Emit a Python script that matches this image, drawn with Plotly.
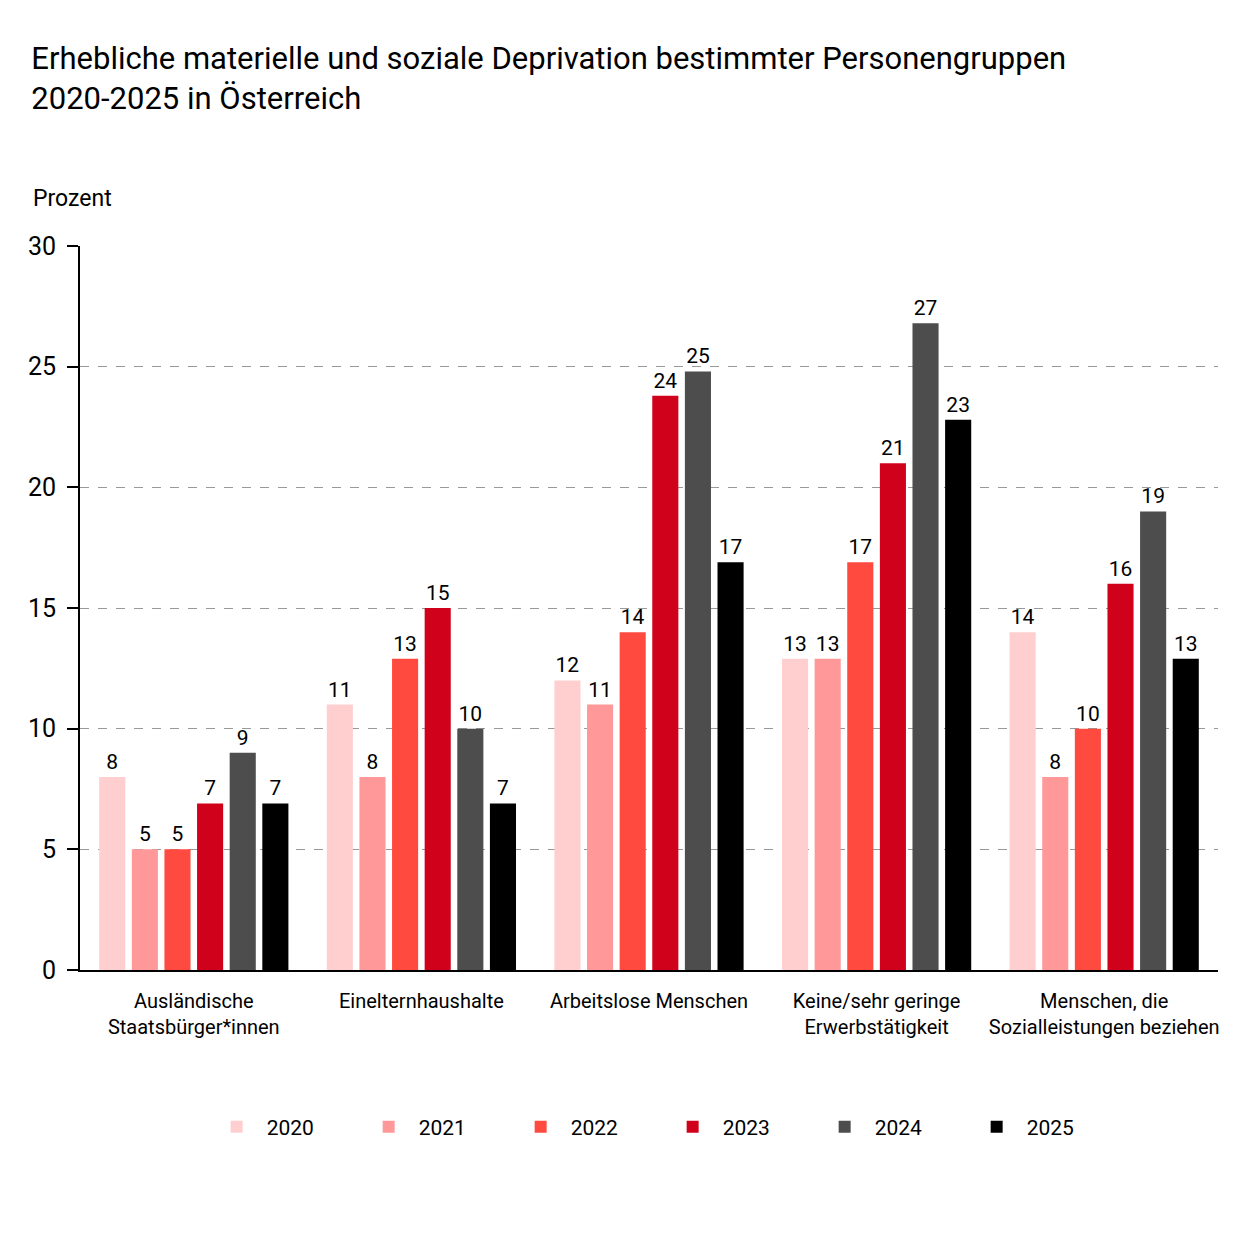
import plotly.graph_objects as go

categories = ["Ausländische<br>Staatsbürger*innen", "Einelternhaushalte", "Arbeitslose Menschen",
              "Keine/sehr geringe<br>Erwerbstätigkeit", "Menschen, die<br>Sozialleistungen beziehen"]
years = ["2020", "2021", "2022", "2023", "2024", "2025"]
values = {
    "2020": [8.0, 11.0, 12.0, 12.9, 14.0],
    "2021": [5.0, 8.0, 11.0, 12.9, 8.0],
    "2022": [5.0, 12.9, 14.0, 16.9, 10.0],
    "2023": [6.9, 15.0, 23.8, 21.0, 16.0],
    "2024": [9.0, 10.0, 24.8, 26.8, 19.0],
    "2025": [6.9, 6.9, 16.9, 22.8, 12.9],
}
colors = ["#FFCFCF", "#FF9999", "#FF4A40", "#D0021B", "#4D4D4D", "#000000"]

FONT = "Roboto, Liberation Sans, sans-serif"

fig = go.Figure()
for y, c in zip(years, colors):
    fig.add_trace(go.Bar(
        name=y, x=categories, y=values[y], marker=dict(color=c, line=dict(width=0)),
        texttemplate="%{y:.0f}", textposition="outside", constraintext="none",
        textfont=dict(size=21, color="black", family=FONT), cliponaxis=False,
    ))

fig.update_layout(
    width=1254, height=1254,
    paper_bgcolor="white", plot_bgcolor="white",
    barmode="group", bargap=0.14, bargroupgap=0.2,
    margin=dict(l=80, r=36, t=246, b=284, autoexpand=False),
    font=dict(family=FONT, color="black"),
    title=dict(text="Erhebliche materielle und soziale Deprivation bestimmter Personengruppen<br>2020-2025 in Österreich",
               x=0.025, xanchor="left", y=0.945, yanchor="middle", font=dict(size=31, color="black", family=FONT)),
    showlegend=True,
    legend=dict(orientation="h", x=0.512, xanchor="center", y=-0.217, yanchor="middle",
                font=dict(size=21, family=FONT), entrywidth=87, itemwidth=50, traceorder="normal"),
    xaxis=dict(showgrid=False, showline=True, linecolor="black", linewidth=2, tickangle=0,
               tickfont=dict(size=20, family=FONT), ticks="", ticklabelstandoff=12),
    yaxis=dict(range=[0, 30], tickvals=[0, 5, 10, 15, 20, 25, 30], showline=True, linecolor="black",
               linewidth=2, ticks="outside", ticklen=11, tickwidth=2, tickcolor="black",
               showgrid=True, gridcolor="#999999", griddash="dash", gridwidth=1, zeroline=False,
               tickfont=dict(size=25, family=FONT), ticklabelstandoff=6),
)
fig.add_annotation(text="Prozent", xref="paper", yref="paper", x=-0.043, y=1.065, xanchor="left",
                   yanchor="middle", showarrow=False, font=dict(size=23, family=FONT, color="black"))

fig.write_html("out.html")
